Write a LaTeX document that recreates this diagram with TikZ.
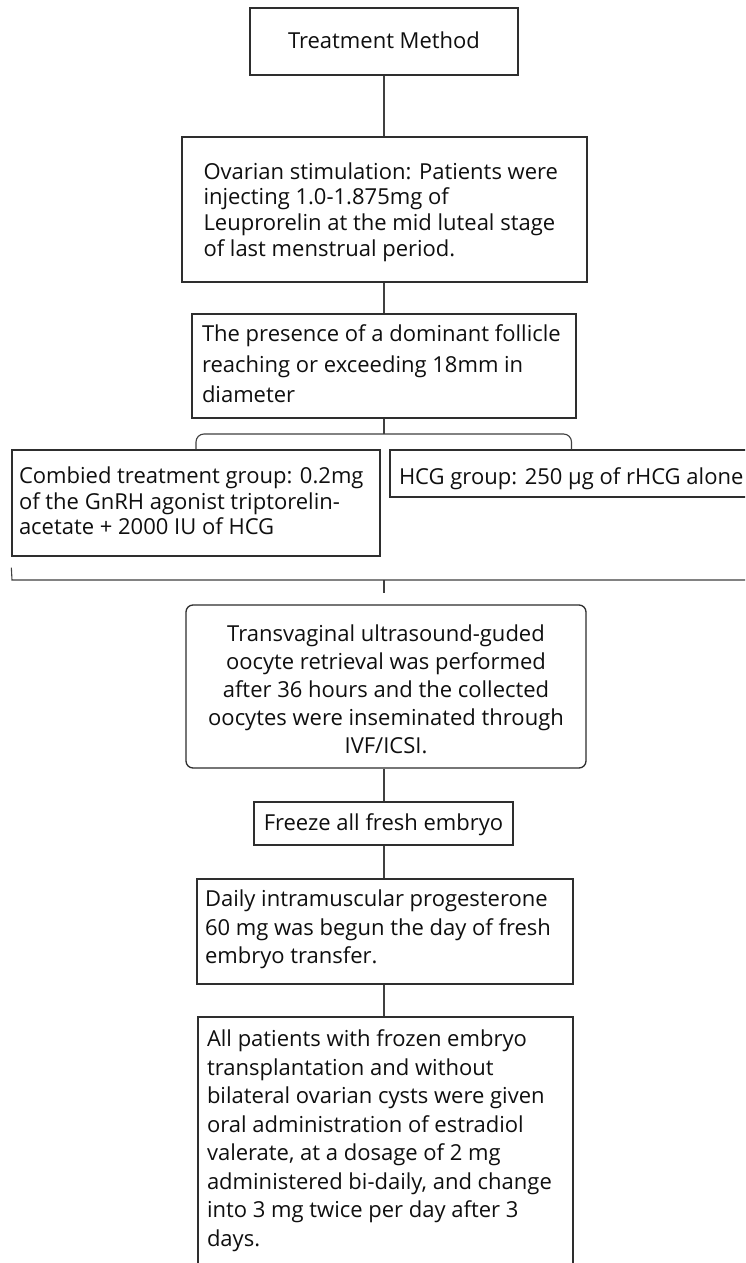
\documentclass[tikz,border=0pt]{standalone}
\usepackage{fontspec}
\setmainfont{Open Sans}
% #1 width, #2 height, #3 top pad, #4 baselineskip, #5 left pad, #6 rows
\newcommand{\lbox}[6]{\parbox[c][#2][t]{#1}{\fontsize{22pt}{#4}\selectfont\vspace*{#3}\hspace*{#5}\begin{tabular}[t]{@{}l@{}}#6\end{tabular}\par}}
% #1 width, #2 height, #3 top pad, #4 baselineskip, #5 rows
\newcommand{\cbox}[5]{\parbox[c][#2][t]{#1}{\fontsize{22pt}{#4}\selectfont\vspace*{#3}\centering\begin{tabular}[t]{@{}c@{}}#5\end{tabular}\par}}
\begin{document}
\begin{tikzpicture}[x=1pt,y=-1pt,
  bx/.style={draw=black!82, line width=1.3pt, inner sep=0pt, text=black!94},
  ln/.style={draw=black!75, line width=1.1pt}]
\useasboundingbox (0,0) rectangle (745,1263);
\clip (0,0) rectangle (745,1263);
\fill[white] (0,0) rectangle (745,1263);

\node[bx] (tm) at (384,41.5) {\cbox{268pt}{67pt}{22.8pt}{26pt}{Treatment Method}};
\node[bx] (ov) at (384.5,209.5) {\lbox{405pt}{145pt}{24pt}{25.8pt}{21.5pt}{Ovarian stimulation: Patients were\\injecting 1.0-1.875mg of\\Leuprorelin at the mid luteal stage\\of last menstrual period.}};
\node[bx] (pr) at (384,366) {\lbox{384pt}{104pt}{6.6pt}{30.5pt}{10pt}{The presence of a dominant follicle\\reaching or exceeding 18mm in\\diameter}};
\node[bx] (cb) at (196,503) {\lbox{368pt}{106pt}{16.1pt}{25.5pt}{7pt}{Combied treatment group: 0.2mg\\of the GnRH agonist triptorelin-\\acetate + 2000 IU of HCG}};
\node[bx] (hcg) at (600,473.5) {\lbox{420pt}{47pt}{15.8pt}{26pt}{9pt}{HCG group: 250 µg of rHCG alone}};
\node[bx, rounded corners=7pt] (tv) at (386,686.5) {\cbox{400pt}{163pt}{16.4pt}{28pt}{Transvaginal ultrasound-guded\\oocyte retrieval was performed\\after 36 hours and the collected\\oocytes were inseminated through\\IVF/ICSI.}};
\node[bx] (fz) at (383.5,823.5) {\cbox{259pt}{43pt}{9.8pt}{26pt}{Freeze all fresh embryo}};
\node[bx] (dl) at (385,931.5) {\lbox{376pt}{105pt}{8pt}{28.5pt}{8pt}{Daily intramuscular progesterone\\60 mg was begun the day of fresh\\embryo transfer.}};
\node[bx] (al) at (385.5,1158.5) {\lbox{375pt}{283pt}{10pt}{28.5pt}{9pt}{All patients with frozen embryo\\transplantation and without\\bilateral ovarian cysts were given\\oral administration of estradiol\\valerate, at a dosage of 2 mg\\administered bi-daily, and change\\into 3 mg twice per day after 3\\days.}};

% connectors
\draw[ln] (tm.south) -- (tm.south |- ov.north);
\draw[ln] (ov.south -| tm.south) -- (tm.south |- pr.north);
\coordinate (bl) at (196,434);
\coordinate (br) at (571.5,434);
\draw[ln] (tm.south |- pr.south) -- (tm.south |- bl);
\draw[ln, rounded corners=8pt] (cb.north) -- (bl) -- (br) -- (br |- hcg.north);
\coordinate (k1) at ([yshift=-11pt]cb.south west);
\coordinate (k2) at (12,580);
\coordinate (k3) at (760,580);
\coordinate (km) at (384,580);
\coordinate (kt) at (384,593);
\draw[ln] (k1) -- (k2) -- (k3);
\draw[ln] (km) -- (kt);
\draw[ln] (tv.south -| km) -- (km |- fz.north);
\draw[ln] (fz.south -| km) -- (km |- dl.north);
\draw[ln] (dl.south -| km) -- (km |- al.north);
\end{tikzpicture}
\end{document}
